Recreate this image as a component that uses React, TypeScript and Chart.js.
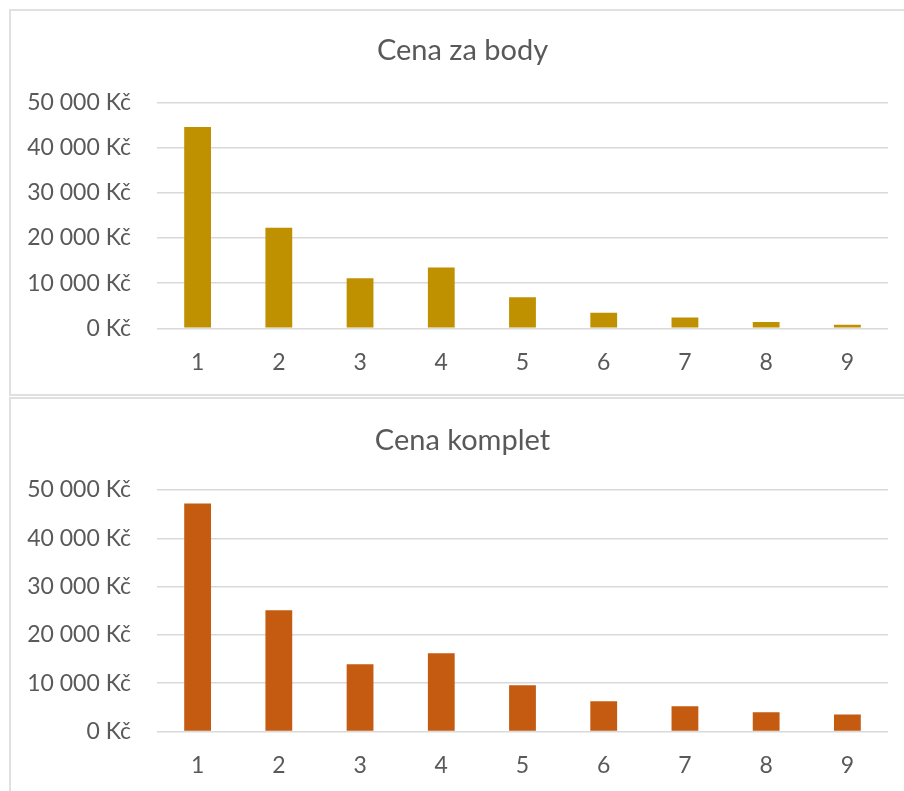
import React, { useEffect, useRef } from "react";
import { Chart, registerables } from "chart.js";

Chart.register(...registerables);

const CATEGORIES = ["1", "2", "3", "4", "5", "6", "7", "8", "9"];
const TITLE_POINTS = "Cena za body";
const TITLE_TOTAL = "Cena komplet";
const PRICE_POINTS = [44600, 22300, 11100, 13500, 6900, 3450, 2370, 1400, 780];
const PRICE_TOTAL = [47200, 25100, 13930, 16200, 9590, 6270, 5240, 4000, 3500];
const Y_MIN = 0;
const Y_MAX = 50000;
const Y_STEP = 10000;

const TEXT = "#595959";
const GRID = "#d9d9d9";
const FONT = "Lato";

const fmt = (v: number) =>
  String(v).replace(/\B(?=(\d{3})+(?!\d))/g, " ") + " Kč";

type Cfg = {
  title: string;
  values: number[];
  color: string;
  titleTop: number;
  titleBottom: number;
  xHeight: number;
};

function makeChart(canvas: HTMLCanvasElement, c: Cfg) {
  return new Chart(canvas, {
    type: "bar",
    data: {
      labels: CATEGORIES,
      datasets: [
        {
          data: c.values,
          backgroundColor: c.color,
          categoryPercentage: 1,
          barPercentage: 0.33,
        },
      ],
    },
    options: {
      animation: false,
      responsive: false,
      maintainAspectRatio: false,
      layout: { padding: { left: 0, right: 0, top: 0, bottom: 0 } },
      plugins: {
        legend: { display: false },
        tooltip: { enabled: false },
        title: {
          display: true,
          text: c.title,
          color: TEXT,
          font: { family: FONT, size: 29, weight: "normal" },
          padding: { top: c.titleTop, bottom: c.titleBottom },
        },
      },
      scales: {
        x: {
          grid: { display: false, drawTicks: false },
          border: { display: false },
          ticks: {
            color: TEXT,
            font: { family: FONT, size: 23 },
            padding: 20,
            maxRotation: 0,
          },
          afterFit: (s: any) => {
            s.height = c.xHeight;
          },
        },
        y: {
          min: Y_MIN,
          max: Y_MAX,
          grid: { color: GRID, lineWidth: 1.5, drawTicks: false },
          border: { display: false },
          ticks: {
            stepSize: Y_STEP,
            color: TEXT,
            font: { family: FONT, size: 23 },
            padding: 26,
            callback: (v: any) => fmt(Number(v)),
          },
          afterFit: (s: any) => {
            s.width = 157;
          },
        },
        yRight: {
          position: "right",
          min: Y_MIN,
          max: Y_MAX,
          grid: { display: false, drawTicks: false },
          border: { display: false },
          ticks: { display: false },
          afterFit: (s: any) => {
            s.width = 37;
          },
        },
      },
    },
  } as any);
}

export default function App() {
  const ref1 = useRef<HTMLCanvasElement>(null);
  const ref2 = useRef<HTMLCanvasElement>(null);

  useEffect(() => {
    const c1 = makeChart(ref1.current!, {
      title: TITLE_POINTS,
      values: PRICE_POINTS,
      color: "#BF9000",
      titleTop: 33.6,
      titleBottom: 34.3,
      xHeight: 66.7,
    });
    const c2 = makeChart(ref2.current!, {
      title: TITLE_TOTAL,
      values: PRICE_TOTAL,
      color: "#C55A11",
      titleTop: 26.2,
      titleBottom: 32,
      xHeight: 59.5,
    });
    return () => {
      c1.destroy();
      c2.destroy();
    };
  }, []);

  return (
    <div
      style={{
        position: "absolute",
        left: 0,
        top: 0,
        width: 904,
        height: 791,
        overflow: "hidden",
        background: "#fff",
      }}
    >
      <div
        style={{
          position: "absolute",
          left: 9,
          top: 9,
          width: 920,
          height: 383,
          border: "2px solid #e0e0e0",
        }}
      />
      <div
        style={{
          position: "absolute",
          left: 9,
          top: 397,
          width: 920,
          height: 420,
          border: "2px solid #e0e0e0",
        }}
      />
      <canvas
        ref={ref1}
        width={925}
        height={395}
        style={{ position: "absolute", left: 0, top: 0, width: 925, height: 395 }}
      />
      <canvas
        ref={ref2}
        width={925}
        height={394}
        style={{ position: "absolute", left: 0, top: 397, width: 925, height: 394 }}
      />
    </div>
  );
}
